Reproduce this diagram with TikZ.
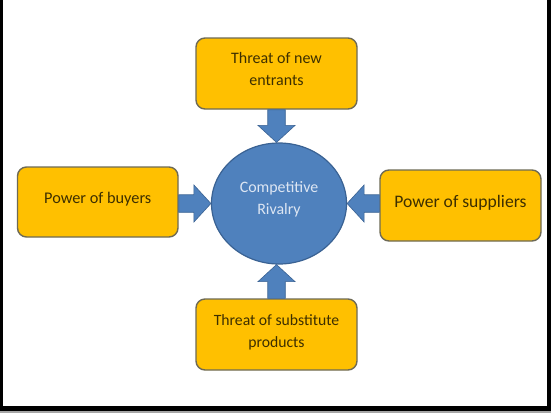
\documentclass[tikz,border=0pt]{standalone}
\usepackage{fontspec}
\setmainfont{Carlito}
\usetikzlibrary{calc,shapes.geometric}
\definecolor{boxfill}{HTML}{FFC000}
\definecolor{boxline}{HTML}{6E6A55}
\definecolor{boxtext}{HTML}{3D2F00}
\definecolor{bluefill}{HTML}{4F81BD}
\definecolor{blueline}{HTML}{3A6293}
\definecolor{circtext}{HTML}{DDE6F3}
\tikzset{
  force/.style={draw=boxline, line width=1.4pt, fill=boxfill, rounded corners=9pt,
    minimum width=161pt, minimum height=71pt, inner sep=0pt},
  forcetext/.style={inner sep=0pt, align=center, text=boxtext,
    font=\fontsize{#1}{22pt}\selectfont},
  forcetext/.default=16pt,
  rivalry/.style={ellipse, draw=blueline, line width=1.2pt, fill=bluefill,
    minimum width=135pt, minimum height=121pt, inner sep=0pt},
  rivalrytext/.style={inner sep=0pt, align=center, text=circtext,
    font=\fontsize{15.9pt}{21.5pt}\selectfont},
  blockarrow/.style={draw=blueline, line width=0.6pt, fill=bluefill, line join=miter,
    to path={
      ($(\tikztostart)!8.75pt!90:(\tikztotarget)$)
      -- ($($(\tikztotarget)!17pt!(\tikztostart)$)!8.75pt!90:(\tikztotarget)$)
      -- ($($(\tikztotarget)!17pt!(\tikztostart)$)!18.5pt!90:(\tikztotarget)$)
      -- (\tikztotarget)
      -- ($($(\tikztotarget)!17pt!(\tikztostart)$)!18.5pt!-90:(\tikztotarget)$)
      -- ($($(\tikztotarget)!17pt!(\tikztostart)$)!8.75pt!-90:(\tikztotarget)$)
      -- ($(\tikztostart)!8.75pt!-90:(\tikztotarget)$)
      -- cycle}}
}
\begin{document}
\begin{tikzpicture}[x=1pt,y=-1pt]
\useasboundingbox (0,0) rectangle (551,413);
\fill[white] (0,0) rectangle (551,413);
% frame
\fill[black] (0,0) rectangle (3,411);
\fill[black] (547,0) rectangle (551,411);
\fill[black] (0,406) rectangle (551,411);
\fill[gray!70] (0,411) rectangle (551,413);
% nodes
\node[rivalry] (circ) at (279,203.5) {};
\node[force] (top) at (276.5,73.5) {};
\node[force, minimum width=160.5pt, minimum height=70pt] (left) at (97.75,202) {};
\node[force] (right) at (460.5,205.5) {};
\node[force] (bottom) at (276.5,334.5) {};
% texts
\node[rivalrytext, yshift=4pt] (circtxt) at (circ) {Competitive\\Rivalry};
\node[forcetext=16pt, yshift=4.5pt] (toptxt) at (top) {Threat of new\\entrants};
\node[forcetext=16.3pt, yshift=2.5pt] (lefttxt) at (left) {Power of buyers};
\node[forcetext=17.6pt, yshift=2.5pt] (righttxt) at (right) {Power of suppliers};
\node[forcetext=15.7pt, yshift=2pt] (bottomtxt) at (bottom) {Threat of substitute\\products};
% arrows
\path[blockarrow] (top.south) to (top.south |- circ.north);
\path[blockarrow] (bottom.north) to (bottom.north |- circ.south);
\path[blockarrow] (left.east |- circ.west) to (circ.west);
\path[blockarrow] (right.west |- circ.east) to (circ.east);
\end{tikzpicture}
\end{document}
